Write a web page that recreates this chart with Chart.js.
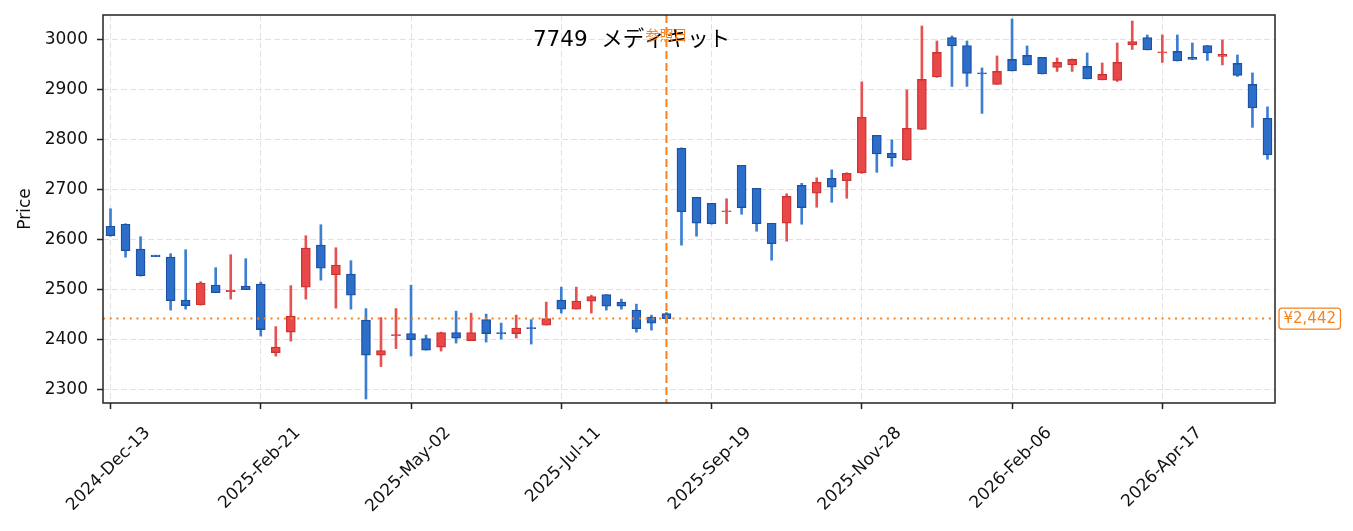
<!DOCTYPE html>
<html>
<head>
<meta charset="utf-8">
<script src="https://cdn.jsdelivr.net/npm/chart.js@4.4.1/dist/chart.umd.min.js"></script>
<style>
  html, body { margin: 0; padding: 0; background: #ffffff; }
  #wrap { width: 1353px; height: 531px; }
</style>
</head>
<body>
<div id="wrap"><canvas id="candleChart" width="1353" height="531"></canvas></div>
<script>
// Weekly candles, 7749 メディキット
const weeks = [
    '2024-Dec-13', '2024-Dec-20', '2024-Dec-27', '2025-Jan-03', '2025-Jan-10', '2025-Jan-17', '2025-Jan-24', '2025-Jan-31',
    '2025-Feb-07', '2025-Feb-14', '2025-Feb-21', '2025-Feb-28', '2025-Mar-07', '2025-Mar-14', '2025-Mar-21', '2025-Mar-28',
    '2025-Apr-04', '2025-Apr-11', '2025-Apr-18', '2025-Apr-25', '2025-May-02', '2025-May-09', '2025-May-16', '2025-May-23',
    '2025-May-30', '2025-Jun-06', '2025-Jun-13', '2025-Jun-20', '2025-Jun-27', '2025-Jul-04', '2025-Jul-11', '2025-Jul-18',
    '2025-Jul-25', '2025-Aug-01', '2025-Aug-08', '2025-Aug-15', '2025-Aug-22', '2025-Aug-29', '2025-Sep-05', '2025-Sep-12',
    '2025-Sep-19', '2025-Sep-26', '2025-Oct-03', '2025-Oct-10', '2025-Oct-17', '2025-Oct-24', '2025-Oct-31', '2025-Nov-07',
    '2025-Nov-14', '2025-Nov-21', '2025-Nov-28', '2025-Dec-05', '2025-Dec-12', '2025-Dec-19', '2025-Dec-26', '2026-Jan-02',
    '2026-Jan-09', '2026-Jan-16', '2026-Jan-23', '2026-Jan-30', '2026-Feb-06', '2026-Feb-13', '2026-Feb-20', '2026-Feb-27',
    '2026-Mar-06', '2026-Mar-13', '2026-Mar-20', '2026-Mar-27', '2026-Apr-03', '2026-Apr-10', '2026-Apr-17', '2026-Apr-24',
    '2026-May-01', '2026-May-08', '2026-May-15', '2026-May-22', '2026-May-29', '2026-Jun-05'
];

const opens = [
    2627, 2631, 2581, 2569, 2565, 2479, 2470, 2509, 2496, 2507,
    2511, 2374, 2415, 2505, 2589, 2530, 2531, 2439, 2369, 2408,
    2412, 2402, 2385, 2414, 2398, 2440, 2414, 2412, 2424, 2429,
    2479, 2461, 2477, 2490, 2475, 2459, 2445, 2452, 2783, 2685,
    2673, 2656, 2749, 2703, 2633, 2633, 2709, 2693, 2723, 2718,
    2734, 2809, 2773, 2760, 2821, 2926, 3005, 2989, 2934, 2911,
    2961, 2969, 2965, 2945, 2950, 2947, 2920, 2919, 2990, 3005,
    2974, 2977, 2965, 2989, 2967, 2953, 2911, 2843
];
const highs = [
    2662, 2632, 2606, 2569, 2572, 2580, 2516, 2544, 2570, 2562,
    2515, 2426, 2508, 2608, 2630, 2584, 2558, 2462, 2444, 2462,
    2509, 2409, 2415, 2457, 2453, 2451, 2433, 2449, 2440, 2475,
    2505, 2505, 2489, 2490, 2481, 2471, 2449, 2454, 2784, 2685,
    2673, 2682, 2749, 2703, 2633, 2692, 2713, 2724, 2740, 2734,
    2916, 2809, 2800, 2900, 3028, 2998, 3008, 2998, 2944, 2968,
    3042, 2988, 2965, 2964, 2962, 2974, 2954, 2994, 3038, 3010,
    3010, 3010, 2994, 2989, 3000, 2970, 2934, 2866
];
const lows = [
    2607, 2565, 2527, 2566, 2459, 2461, 2469, 2494, 2481, 2500,
    2407, 2367, 2397, 2481, 2519, 2463, 2461, 2281, 2346, 2382,
    2367, 2379, 2377, 2393, 2398, 2395, 2401, 2403, 2391, 2429,
    2453, 2461, 2453, 2459, 2461, 2415, 2419, 2433, 2589, 2607,
    2631, 2632, 2651, 2617, 2559, 2597, 2631, 2665, 2675, 2683,
    2733, 2735, 2747, 2759, 2821, 2925, 2907, 2907, 2853, 2911,
    2938, 2950, 2932, 2937, 2937, 2922, 2920, 2917, 2981, 2980,
    2955, 2958, 2961, 2959, 2950, 2927, 2825, 2761
];
const closes = [
    2608, 2578, 2528, 2566, 2478, 2468, 2513, 2494, 2499, 2500,
    2420, 2385, 2447, 2583, 2543, 2549, 2489, 2369, 2378, 2410,
    2400, 2379, 2414, 2403, 2414, 2412, 2412, 2423, 2422, 2442,
    2461, 2477, 2486, 2467, 2467, 2422, 2433, 2442, 2656, 2633,
    2632, 2658, 2664, 2632, 2592, 2687, 2664, 2715, 2705, 2733,
    2845, 2772, 2764, 2823, 2921, 2975, 2988, 2933, 2932, 2937,
    2938, 2950, 2932, 2955, 2961, 2922, 2931, 2955, 2997, 2980,
    2976, 2958, 2961, 2974, 2971, 2929, 2864, 2770
];

const yTicks = [2300, 2400, 2500, 2600, 2700, 2800, 2900, 3000];
const tickEvery = 10;      // a date label every 10 weeks
const refIndex = 37;       // 参照日 (2025-Aug-29)
const refPrice = 2442;

const FONT = "'DejaVu Sans', 'Noto Sans CJK JP', sans-serif";
const JP_FONT = "'Noto Sans CJK JP', sans-serif";
const ORANGE = '#f7821e';
const GRID = '#e2e2e2';

const isUp = opens.map((o, i) => closes[i] >= o);
const bodyFill = isUp.map(u => u ? '#e84848' : '#2c6ec8');
const bodyEdge = isUp.map(u => u ? '#cf3131' : '#1c51a3');
const wickColor = isUp.map(u => u ? '#e65252' : '#3b7ed2');

// reference lines, frame, title and price tag
const overlayPlugin = {
    id: 'overlay',
    afterDatasetsDraw(chart) {
        const { ctx, chartArea: a, scales } = chart;
        const xRef = scales.x.getPixelForValue(refIndex);
        const yRef = scales.y.getPixelForValue(refPrice);
        ctx.save();

        // title inside the axes
        ctx.fillStyle = '#000000';
        ctx.font = `21.5px ${FONT}`;
        ctx.textAlign = 'center';
        ctx.textBaseline = 'middle';
        ctx.fillText('7749  メディキット', a.left + (a.right - a.left) * 0.451, a.top + 25.5);

        // horizontal dotted line
        ctx.strokeStyle = ORANGE;
        ctx.lineWidth = 2;
        ctx.setLineDash([2, 4.7]);
        ctx.beginPath();
        ctx.moveTo(a.left, yRef);
        ctx.lineTo(a.right, yRef);
        ctx.stroke();

        // vertical dashed line
        ctx.setLineDash([8, 4]);
        ctx.beginPath();
        ctx.moveTo(xRef, a.top);
        ctx.lineTo(xRef, a.bottom);
        ctx.stroke();
        ctx.setLineDash([]);

        ctx.fillStyle = ORANGE;
        ctx.font = `14px ${JP_FONT}`;
        ctx.fillText('参照日', xRef, a.top + 19.5);

        // frame
        ctx.strokeStyle = '#222222';
        ctx.lineWidth = 1.5;
        ctx.strokeRect(a.left, a.top, a.right - a.left, a.bottom - a.top);

        // price tag
        const label = '¥' + refPrice.toLocaleString('en-US');
        ctx.font = `15px ${FONT}`;
        const w = ctx.measureText(label).width + 9;
        const bx = a.right + 4, by = yRef - 10.5;
        ctx.fillStyle = '#ffffff';
        ctx.strokeStyle = ORANGE;
        ctx.lineWidth = 1.3;
        ctx.beginPath();
        ctx.roundRect(bx, by, w, 21, 3);
        ctx.fill();
        ctx.stroke();
        ctx.fillStyle = ORANGE;
        ctx.textAlign = 'left';
        ctx.fillText(label, bx + 4.5, yRef + 0.5);
        ctx.restore();
    }
};

new Chart(document.getElementById('candleChart'), {
    type: 'bar',
    data: {
        labels: weeks,
        datasets: [
            {
                label: 'body',
                data: opens.map((o, i) => [o, closes[i]]),
                backgroundColor: bodyFill,
                borderColor: bodyEdge,
                borderWidth: 1.3,
                borderSkipped: false,
                barThickness: 9,
                grouped: false,
                order: 0
            },
            {
                label: 'wick',
                data: lows.map((l, i) => [l, highs[i]]),
                backgroundColor: wickColor,
                borderWidth: 0,
                barThickness: 2,
                grouped: false,
                order: 1
            }
        ]
    },
    options: {
        responsive: false,
        devicePixelRatio: 1,
        animation: false,
        layout: { padding: { left: 0, top: 15, right: 78, bottom: 0 } },
        plugins: {
            legend: { display: false },
            tooltip: { enabled: false },
            title: { display: false }
        },
        scales: {
            x: {
                offset: true,
                afterFit: scale => { scale.height = 128; },
                afterBuildTicks: scale => {
                    scale.ticks = scale.ticks.filter(t => t.value % tickEvery === 0);
                },
                grid: {
                    offset: false,
                    color: GRID,
                    lineWidth: 1,
                    tickColor: '#222222',
                    tickWidth: 1.5,
                    tickLength: 6,
                    tickBorderDash: []
                },
                border: { display: false, dash: [6, 3] },
                ticks: {
                    autoSkip: false,
                    maxRotation: 45,
                    minRotation: 45,
                    padding: 14,
                    labelOffset: 37,
                    color: '#111111',
                    font: { family: FONT, size: 17 }
                }
            },
            y: {
                min: 2273,
                max: 3050,
                afterFit: scale => {
                    scale.width = 103;
                    scale.paddingTop = 0;
                    scale.paddingBottom = 0;
                },
                afterBuildTicks: scale => {
                    scale.ticks = yTicks.map(v => ({ value: v }));
                },
                grid: {
                    color: GRID,
                    lineWidth: 1,
                    tickColor: '#222222',
                    tickWidth: 1.5,
                    tickLength: 6,
                    tickBorderDash: []
                },
                border: { display: false, dash: [6, 3] },
                ticks: {
                    padding: 9,
                    color: '#111111',
                    font: { family: FONT, size: 17 },
                    callback: v => String(v)
                },
                title: {
                    display: true,
                    text: 'Price',
                    color: '#111111',
                    font: { family: FONT, size: 17 },
                    padding: { top: 15, bottom: 0 }
                }
            }
        }
    },
    plugins: [overlayPlugin]
});
</script>
</body>
</html>
